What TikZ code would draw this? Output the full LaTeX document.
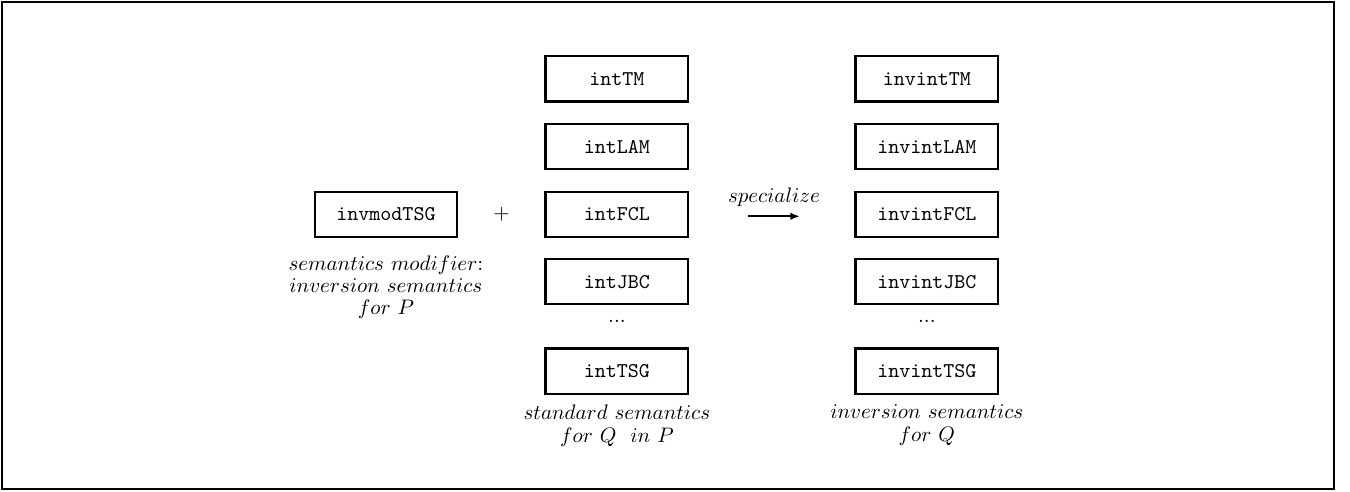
\documentclass[tikz,border=0pt]{standalone}
\usepackage{amsmath}
\usepackage{tikz}
\usetikzlibrary{arrows.meta,positioning,calc}

\begin{document}
\begin{tikzpicture}[
    x=1pt, y=1pt,
    node distance=9.7pt and 41pt,
    sem/.style={rectangle, draw=black, line width=1pt, align=center, minimum height=21.5pt, minimum width=68pt, font=\ttfamily},
    note/.style={align=center, inner sep=0pt},
    arr/.style={-{Latex[length=4.5pt,width=3.6pt]}, line width=0.9pt}
]
    \useasboundingbox (0,0) rectangle (642.9,234.3);
    \draw [line width=1.2pt] (1,1.4) rectangle (635.2,233.3);

    % standard semantics for Q in P
    \node [sem] (tm) at (293.8,196.7) {intTM};
    \node [sem, below=of tm] (lam) {intLAM};
    \node [sem, below=of lam] (fcl) {intFCL};
    \node [sem, below=of fcl] (jbc) {intJBC};
    \node [sem, below=20pt of jbc] (tsg) {intTSG};
    \node [yshift=2.5pt] at ($(jbc)!0.5!(tsg)$) (dots) {...};
    \node [note, below=4.5pt of tsg] (stdnote) {$standard\ semantics$\\[-1pt]$for\ Q\ \ in\ P$};

    % modifier
    \node [sem, left=of fcl] (mod) {invmodTSG};
    \node at ($(mod.east)!0.5!(fcl.west)$) (plus) {$+$};
    \node [note, below=8.6pt of mod] (modnote) {$semantics\ modifier{:}$\\[-1.5pt]$inversion\ semantics$\\[-1.5pt]$for\ P$};

    % inversion semantics for Q
    \node [sem, right=78.6pt of tm] (itm) {invintTM};
    \node [sem, below=of itm] (ilam) {invintLAM};
    \node [sem, below=of ilam] (ifcl) {invintFCL};
    \node [sem, below=of ifcl] (ijbc) {invintJBC};
    \node [sem, below=20pt of ijbc] (itsg) {invintTSG};
    \node [yshift=2.5pt] at ($(ijbc)!0.5!(itsg)$) (idots) {...};
    \node [note, below=4.5pt of itsg] (invnote) {$inversion\ semantics$\\[-1pt]$for\ Q$};

    \coordinate [right=28pt of fcl.east, yshift=-1pt] (sp1);
    \coordinate [left=26pt of ifcl.west, yshift=-1pt] (sp2);
    \draw [arr] (sp1) -- (sp2) node [midway, above=1pt] (spec) {$specialize$};
\end{tikzpicture}
\end{document}
